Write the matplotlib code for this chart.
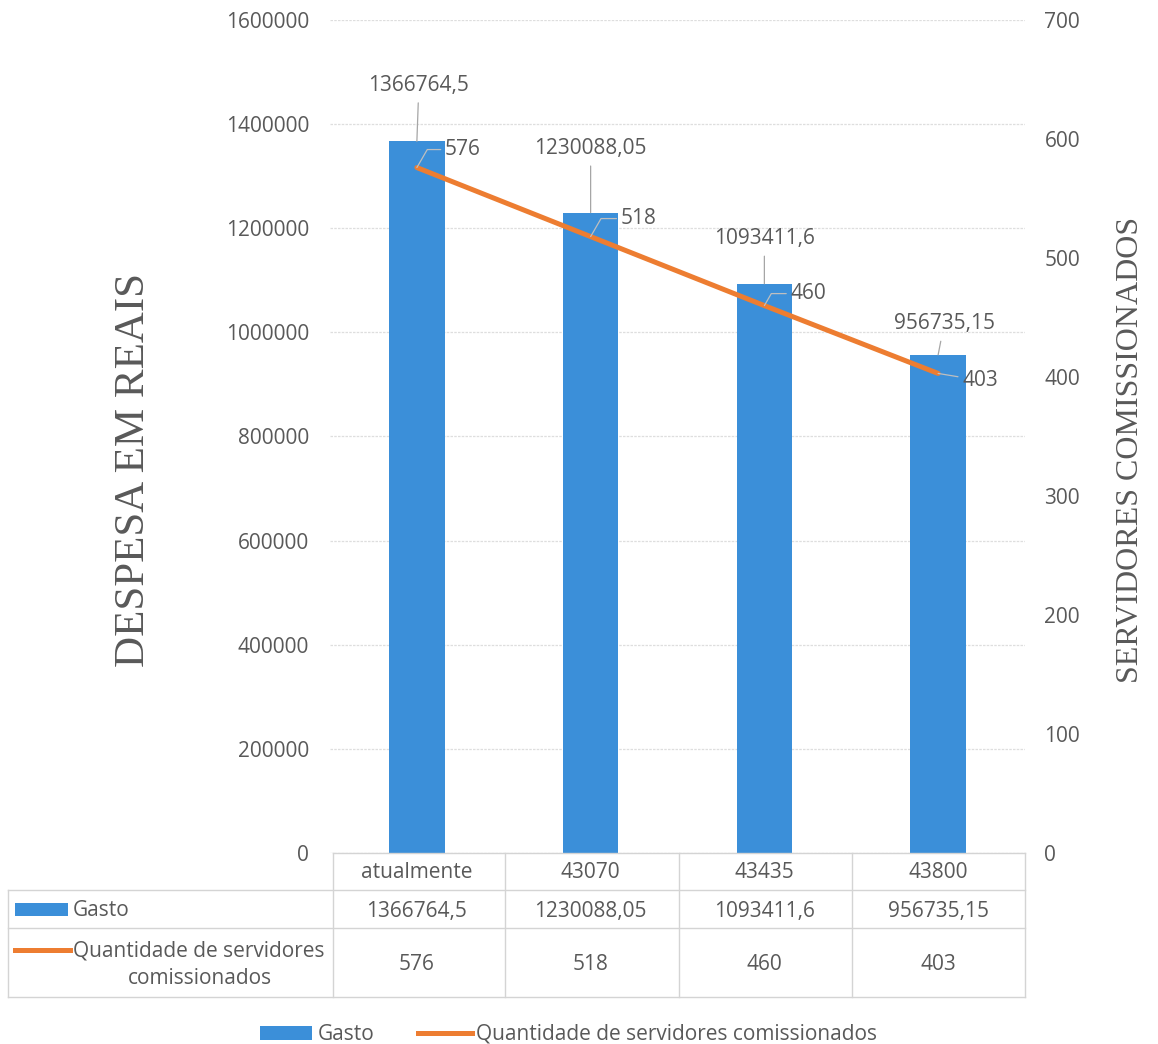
import matplotlib
matplotlib.use('Agg')
import matplotlib.pyplot as plt
import matplotlib.transforms as mtransforms
from matplotlib.lines import Line2D
from matplotlib.patches import Rectangle

# data
categorias = ['atualmente', '43070', '43435', '43800']
gasto = [1366764.5, 1230088.05, 1093411.6, 956735.15]
gasto_txt = ['1366764,5', '1230088,05', '1093411,6', '956735,15']
servidores = [576, 518, 460, 403]

AZUL = '#3b8fd9'
LARANJA = '#ed7d31'
CINZA = '#595959'
GRADE = '#dedede'
FONTE = 'Open Sans'
FS = 15

W, H = 1158, 1044
fig = plt.figure(figsize=(W / 100, H / 100), dpi=100)
fig.patch.set_facecolor('white')

def fx(x):
    return x / W

def fy(y):
    # +2 px: o centro da caixa de texto fica um pouco acima do centro visual
    return 1 - y / H

def ty(y):
    return 1 - (y + 2) / H

ax = fig.add_axes([fx(330), fy(853), fx(1025) - fx(330), fy(20) - fy(853)])
ax2 = ax.twinx()

x = list(range(len(categorias)))
ax.bar(x, gasto, width=0.32, color=AZUL, zorder=2)
ax.set_xlim(-0.5, 3.5)
ax.set_ylim(0, 1600000)
ax.set_yticks(range(0, 1600001, 200000))
ax.set_yticklabels([str(v) for v in range(0, 1600001, 200000)])
ax.grid(axis='y', color=GRADE, lw=0.9, ls=(0, (2, 1)), zorder=0)
ax.set_xticks([])

ax2.plot(x, servidores, color=LARANJA, lw=3.6, solid_capstyle='round', zorder=3)
ax2.set_ylim(0, 700)
ax2.set_yticks(range(0, 701, 100))

for a in (ax, ax2):
    for s in a.spines.values():
        s.set_visible(False)
    a.tick_params(axis='y', length=0, labelsize=FS, labelcolor=CINZA)
    for t in a.get_yticklabels():
        t.set_fontfamily(FONTE)
ax.tick_params(axis='y', pad=15)
ax2.tick_params(axis='y', pad=14)
ax2.set_zorder(ax.get_zorder() + 1)
ax2.patch.set_visible(False)

# rótulos das barras
desloc_barra = [(2, 56), (0, 64), (0, 45), (6, 31)]
for i, v in enumerate(gasto):
    dx, dy = desloc_barra[i]
    ax.annotate(gasto_txt[i], xy=(i, v), xytext=(dx, dy), textcoords='offset pixels',
                ha='center', va='center', fontsize=FS, color=CINZA, family=FONTE,
                arrowprops=dict(arrowstyle='-', color='#a6a6a6', lw=0.9, shrinkA=3, shrinkB=0),
                zorder=5)

# rótulos da linha
desloc_linha = [(28, 18), (30, 18), (26, 12), (24, -7)]
conexoes = ['angle,angleA=0,angleB=60,rad=0'] * 3 + ['arc3,rad=0']
for i, v in enumerate(servidores):
    dx, dy = desloc_linha[i]
    ax2.annotate(str(v), xy=(i, v), xytext=(dx, dy), textcoords='offset pixels',
                 ha='left', va='center', fontsize=FS, color=CINZA, family=FONTE,
                 arrowprops=dict(arrowstyle='-', color='#bfbfbf', lw=0.9, shrinkA=1, shrinkB=0,
                                 connectionstyle=conexoes[i]),
                 zorder=5)

# títulos dos eixos
fig.text(fx(134), fy(470), 'DESPESA EM REAIS', rotation=90, ha='center', va='center',
         fontsize=31, color=CINZA, family='Liberation Serif')
fig.text(fx(1130), fy(450), 'SERVIDORES COMISSIONADOS', rotation=90, ha='center', va='center',
         fontsize=23, color=CINZA, family='Liberation Serif')

# tabela de dados
LINHA_TAB = '#d4d4d4'
def hline(y, x0, x1):
    fig.add_artist(Line2D([fx(x0), fx(x1)], [fy(y), fy(y)], color=LINHA_TAB, lw=1))

def vline(x0, y0, y1):
    fig.add_artist(Line2D([fx(x0), fx(x0)], [fy(y0), fy(y1)], color=LINHA_TAB, lw=1))

hline(853, 333, 1025)
for yy in (890, 928, 997):
    hline(yy, 8, 1025)
vline(8, 890, 997)
for xx in (333, 505, 679, 852, 1025):
    vline(xx, 853, 997)

trans = mtransforms.blended_transform_factory(ax.transData, fig.transFigure)
for i in x:
    fig.text(i, ty(871), categorias[i], transform=trans, ha='center', va='center',
             fontsize=FS, color=CINZA, family=FONTE)
    fig.text(i, ty(909), gasto_txt[i], transform=trans, ha='center', va='center',
             fontsize=FS, color=CINZA, family=FONTE)
    fig.text(i, ty(963), str(servidores[i]), transform=trans, ha='center', va='center',
             fontsize=FS, color=CINZA, family=FONTE)

fig.add_artist(Rectangle((fx(15), fy(916)), fx(68) - fx(15), fy(903) - fy(916),
                         facecolor=AZUL, edgecolor='none'))
fig.text(fx(73), ty(909), 'Gasto', ha='left', va='center', fontsize=FS, color=CINZA, family=FONTE)
fig.add_artist(Line2D([fx(15), fx(70)], [fy(950), fy(950)], color=LARANJA, lw=3.6))
fig.text(fx(73), ty(949), 'Quantidade de servidores', ha='left', va='center',
         fontsize=FS, color=CINZA, family=FONTE)
fig.text(fx(200), ty(977), 'comissionados', ha='center', va='center',
         fontsize=FS, color=CINZA, family=FONTE)

# legenda
fig.add_artist(Rectangle((fx(260), fy(1040)), fx(312) - fx(260), fy(1026) - fy(1040),
                         facecolor=AZUL, edgecolor='none'))
fig.text(fx(318), ty(1032), 'Gasto', ha='left', va='center', fontsize=FS, color=CINZA, family=FONTE)
fig.add_artist(Line2D([fx(418), fx(472)], [fy(1033), fy(1033)], color=LARANJA, lw=3.6))
fig.text(fx(476), ty(1032), 'Quantidade de servidores comissionados', ha='left', va='center',
         fontsize=FS, color=CINZA, family=FONTE)

fig.savefig('out.png', dpi=100)
plt.close('all')
